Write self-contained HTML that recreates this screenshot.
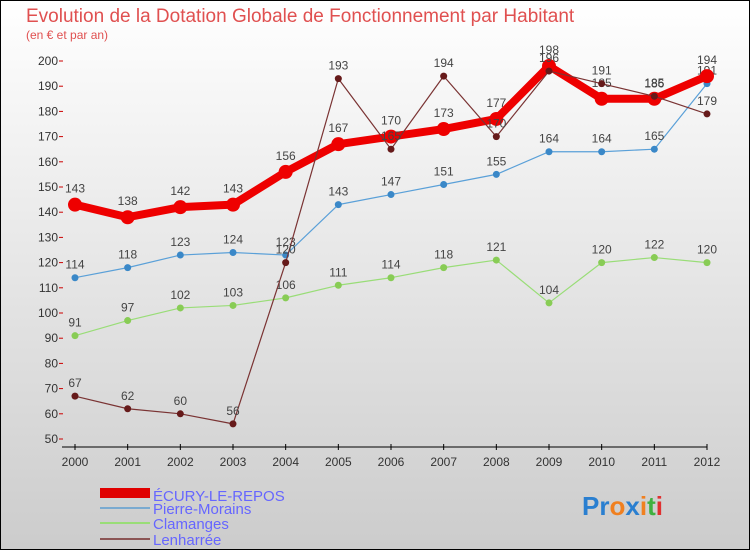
<!DOCTYPE html>
<html><head><meta charset="utf-8"><style>
body{margin:0}
#c{width:750px;height:550px;position:relative;overflow:hidden;font-family:"Liberation Sans",sans-serif}
</style></head><body>
<div id="c">
<svg id="s" width="750" height="550" xmlns="http://www.w3.org/2000/svg">
<defs><linearGradient id="bg" x1="0" y1="0" x2="0" y2="1"><stop offset="0" stop-color="#ffffff"/><stop offset="1" stop-color="#cccccc"/></linearGradient></defs>
<rect x="0.5" y="0.5" width="749" height="549" fill="url(#bg)" stroke="#000"/>
<text x="26" y="22" font-size="19" fill="#e05050">Evolution de la Dotation Globale de Fonctionnement par Habitant</text>
<text x="26" y="39" font-size="12" fill="#e05050">(en € et par an)</text>
<g id="axes"></g><g id="series"></g>
<g>
<rect x="100" y="488" width="50" height="10" fill="#e00000"/>
<text x="153" y="501" font-size="15" fill="#6666ff">ÉCURY-LE-REPOS</text>
<rect x="100" y="507" width="50" height="2" fill="#7aaad0"/>
<text x="153" y="514" font-size="15" fill="#6666ff">Pierre-Morains</text>
<rect x="100" y="522" width="50" height="2" fill="#99dd77"/>
<text x="153" y="529" font-size="15" fill="#6666ff">Clamanges</text>
<rect x="100" y="538" width="50" height="2" fill="#8b5555"/>
<text x="153" y="545" font-size="15" fill="#6666ff">Lenharrée</text>
</g>
<g font-size="26" font-weight="bold">
<text x="582" y="515"><tspan fill="#2a7fd0">Pr</tspan><tspan fill="#f08020">o</tspan><tspan fill="#2a7fd0">x</tspan><tspan fill="#f08020">i</tspan><tspan fill="#40b040">t</tspan><tspan fill="#e03030">i</tspan></text>
</g>
</svg>
</div>
<script>
const years=["2000","2001","2002","2003","2004","2005","2006","2007","2008","2009","2010","2011","2012"];
const yTicks=[50,60,70,80,90,100,110,120,130,140,150,160,170,180,190,200];
const ecury=[143,138,142,143,156,167,170,173,177,198,185,185,194];
const pierre=[114,118,123,124,123,143,147,151,155,164,164,165,191];
const clamanges=[91,97,102,103,106,111,114,118,121,104,120,122,120];
const lenharree=[67,62,60,56,120,193,165,194,170,196,191,186,179];
const NS="http://www.w3.org/2000/svg";
const X=i=>75+i*(707-75)/(years.length-1);
const Y=v=>439-(v-50)*(439-61)/150;
function mk(t,a,p){const e=document.createElementNS(NS,t);for(const k in a)e.setAttribute(k,a[k]);p.appendChild(e);return e;}
const ax=document.getElementById('axes');
mk('line',{x1:62,y1:447,x2:707,y2:447,stroke:'#000','stroke-width':1},ax);
yTicks.forEach(v=>{
 const t=mk('text',{x:58,y:Y(v)+4,'font-size':12,fill:'#333','text-anchor':'end'},ax);t.textContent=v;
 
 
 mk('line',{x1:59,y1:Y(v),x2:63,y2:Y(v),stroke:'#c00'},ax);
});
years.forEach((y,i)=>{
 mk('line',{x1:X(i),y1:444,x2:X(i),y2:450,stroke:'#000'},ax);
 const t=mk('text',{x:X(i),y:466,'font-size':12,fill:'#333','text-anchor':'middle'},ax);t.textContent=y;
 
 
});
const sg=document.getElementById('series');
function series(d,col,w,r,name,dark){
 const g=mk('g',{},sg);
 
 
 mk('polyline',{points:d.map((v,i)=>X(i)+','+Y(v)).join(' '),fill:'none',stroke:col,'stroke-width':w,'stroke-linejoin':'round'},g);
 d.forEach((v,i)=>{
  const c=mk('circle',{cx:X(i),cy:Y(v),r:r,fill:dark||col},g);
  
  
  const t=mk('text',{x:X(i),y:Y(v)-9-(r>5?3:0),'font-size':12,fill:'#444','text-anchor':'middle'},g);t.textContent=v;
  
  
 });
}
series(clamanges,'#99dd77',1.2,3.5,'series-clamanges','#88cc55');
series(pierre,'#5aa0d8',1.2,3.5,'series-pierre-morains','#3a88c8');
series(ecury,'#ee0000',8,7,'series-ecury-le-repos');
series(lenharree,'#7a3333',1.2,3.5,'series-lenharree','#661a1a');
</script>
</body></html>
